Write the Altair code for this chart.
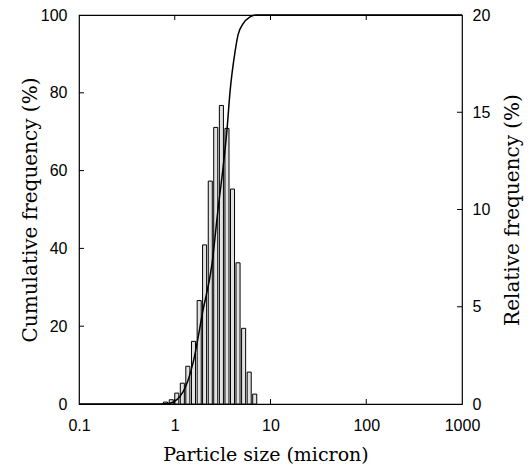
import altair as alt
import pandas as pd

# Histogram (relative frequency, right axis)
bin_sizes = [0.80, 0.92, 1.05, 1.20, 1.37, 1.57, 1.80, 2.05, 2.35, 2.68,
             3.07, 3.51, 4.01, 4.58, 5.24, 5.99, 6.84]
rel_freq = [0.10, 0.22, 0.56, 1.07, 1.94, 3.22, 5.32, 8.18, 11.46, 14.22,
            15.35, 14.17, 11.05, 7.26, 3.89, 1.64, 0.51]

# Cumulative curve (left axis)
cum_sizes = [0.1, 0.70, 0.89, 1.22, 1.55, 1.97, 2.45, 2.83, 3.19, 3.52,
             3.78, 4.26, 4.58, 5.16, 6.11, 7.06, 1000]
cum_freq = [0, 0, 0.2, 3.1, 10.5, 24, 36, 50, 60.6, 70.8,
            80.3, 90.5, 94.9, 97.7, 99.5, 100, 100]

x_ticks = [0.1, 1, 10, 100, 1000]
left_ticks = [0, 20, 40, 60, 80, 100]
right_ticks = [0, 5, 10, 15, 20]

W, H = 383, 389
TICK_FONT = "Liberation Sans"
TITLE_FONT = "DejaVu Serif"

hist_df = pd.DataFrame({"size": bin_sizes, "freq": rel_freq})
cum_df = pd.DataFrame({"size": cum_sizes, "cum": cum_freq})
xt_df = pd.DataFrame({"v": x_ticks[1:-1]})
lt_df = pd.DataFrame({"v": left_ticks[1:-1]})
rt_df = pd.DataFrame({"v": right_ticks[1:-1]})

xscale = alt.Scale(type="log", domain=[0.1, 1000], nice=False)
lscale = alt.Scale(domain=[0, 100], nice=False)
rscale = alt.Scale(domain=[0, 20], nice=False)

xaxis = alt.Axis(values=x_ticks, format="~g", tickSize=0, domain=False, grid=False,
                 labelFont=TICK_FONT, labelFontSize=16, labelColor="black",
                 labelPadding=13, labelFlush=False,
                 title="Particle size (micron)", titleFont=TITLE_FONT,
                 titleFontSize=19, titleFontWeight="normal", titleColor="black",
                 titleX=W / 2 - 5, titleY=50, titleAlign="center",
                 titleBaseline="middle")
laxis = alt.Axis(values=left_ticks, tickSize=0, domain=False, grid=False,
                 labelFont=TICK_FONT, labelFontSize=16, labelColor="black",
                 labelPadding=12, title="Cumulative frequency (%)",
                 titleFont=TITLE_FONT, titleFontSize=20, titleFontWeight="normal",
                 titleColor="black", titleAngle=270, titleX=-49, titleY=H / 2,
                 titleAlign="center", titleBaseline="middle")
raxis = alt.Axis(values=right_ticks, orient="right", tickSize=0, domain=False,
                 grid=False, labelFont=TICK_FONT, labelFontSize=16,
                 labelColor="black", labelPadding=10,
                 title="Relative frequency (%)", titleFont=TITLE_FONT,
                 titleFontSize=20, titleFontWeight="normal", titleColor="black",
                 titleAngle=270, titleX=50, titleY=H / 2,
                 titleAlign="center", titleBaseline="middle")

X = lambda f: alt.X(f, type="quantitative", scale=xscale, axis=xaxis)

bars = alt.Chart(hist_df).transform_calculate(
    lo="datum.size / 1.05", hi="datum.size * 1.05", zero="0"
).mark_bar(fill="#e2e2e2", stroke="black", strokeWidth=1).encode(
    x=X("lo"), x2="hi",
    y=alt.Y("freq:Q", scale=rscale, axis=raxis), y2="zero:Q",
)
rticks = alt.Chart(rt_df).mark_rule(color="black").encode(
    y=alt.Y("v:Q", scale=rscale, axis=raxis),
    x=alt.value(W), x2=alt.value(W - 5),
)

line = alt.Chart(cum_df).mark_line(color="black", strokeWidth=1.5,
                                   interpolate="monotone").encode(
    x=X("size"),
    y=alt.Y("cum:Q", scale=lscale, axis=laxis),
)
lticks = alt.Chart(lt_df).mark_rule(color="black").encode(
    y=alt.Y("v:Q", scale=lscale, axis=laxis),
    x=alt.value(0), x2=alt.value(5),
)
bticks = alt.Chart(xt_df).mark_rule(color="black").encode(
    x=X("v"), y=alt.value(H), y2=alt.value(H - 5),
)
tticks = alt.Chart(xt_df).mark_rule(color="black").encode(
    x=X("v"), y=alt.value(0), y2=alt.value(5),
)

left = alt.layer(line, lticks, bticks, tticks)
right = alt.layer(bars, rticks)

chart = alt.layer(right, left).resolve_scale(y="independent").properties(
    width=W, height=H,
    autosize=alt.AutoSizeParams(type="none"),
    padding={"left": 71, "top": 7, "right": 62, "bottom": 60},
    background="white",
).configure_view(stroke="black", strokeWidth=1.2)

chart.save("out.html", embed_options={"renderer": "svg", "actions": False})
